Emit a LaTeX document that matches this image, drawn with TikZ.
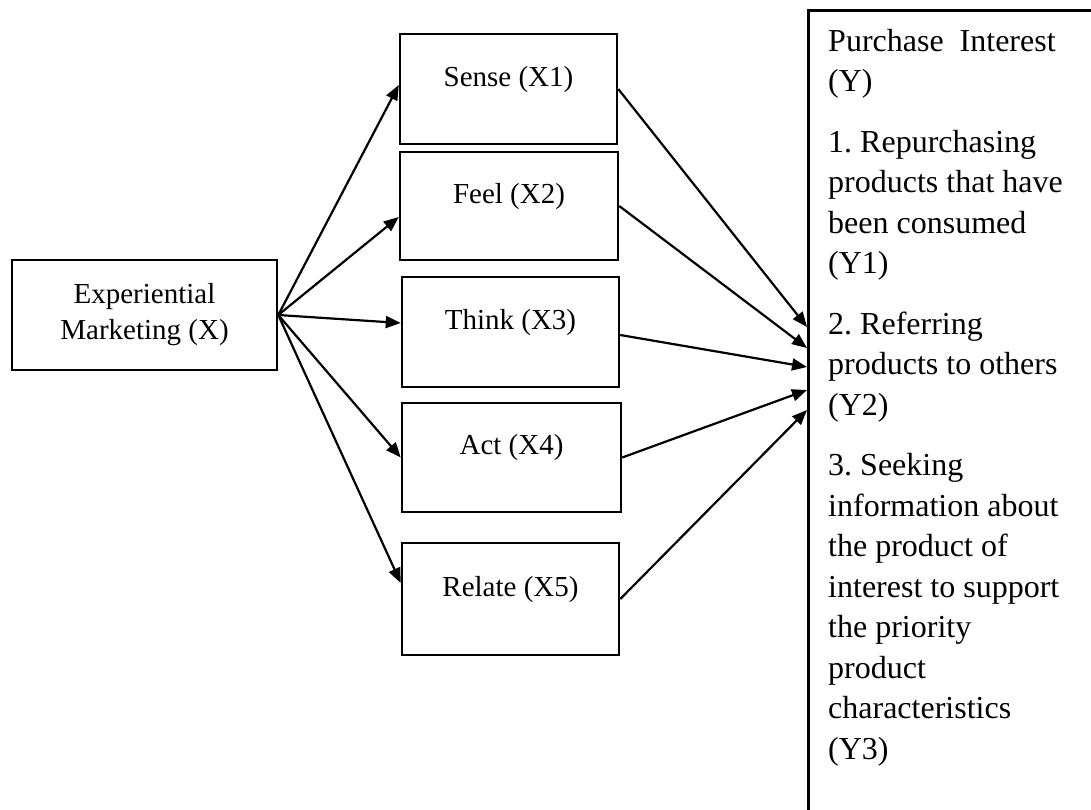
\documentclass[tikz,border=0pt]{standalone}
\usepackage{fontspec}
\setmainfont{Liberation Serif}
\usetikzlibrary{arrows.meta}
\begin{document}
\begin{tikzpicture}[x=1pt,y=-1pt,
  box/.style={draw, line width=2.5pt, minimum width=217pt, minimum height=110pt, inner sep=0pt,
    font=\fontsize{29}{36}\selectfont, text height=20pt, text depth=26pt},
  bigbox/.style={draw, line width=2.5pt, inner sep=0pt},
  ytext/.style={inner sep=0pt, align=left, font=\fontsize{32}{40.5}\selectfont},
  conn/.style={line width=2.2pt, -{Triangle[length=15pt,width=12pt]}}]
\useasboundingbox (0,0) rectangle (1091,809);
\fill[white] (0,0) rectangle (1091,809);
% left box
\node[draw, line width=2.5pt, minimum width=265pt, minimum height=110pt, inner sep=0pt,
  align=center, font=\fontsize{29}{36}\selectfont] (X) at (144.5,315) {Experiential\\Marketing (X)};
% middle boxes
\node[box] (S1) at (508.5,89) {Sense (X1)};
\node[box, minimum width=218pt, minimum height=108pt] (S2) at (509,206) {Feel (X2)};
\node[box] (S3) at (510.5,332) {Think (X3)};
\node[box, minimum width=219pt, minimum height=109pt] (S4) at (511.5,457.5) {Act (X4)};
\node[box, minimum height=112pt] (S5) at (510.5,599) {Relate (X5)};
% right box
\node[bigbox, anchor=north west, minimum width=340pt, minimum height=860pt] (Y) at (807,9) {};
\node[ytext, anchor=north west] (Yt) at (828,29) {Purchase\ \ Interest\\(Y)\\[20pt]1.\ Repurchasing\\products that have\\been consumed\\(Y1)\\[20pt]2.\ Referring\\products to others\\(Y2)\\[20pt]3.\ Seeking\\information about\\the product of\\interest to support\\the priority\\product\\characteristics\\(Y3)};
% target points on the right box
\coordinate (t1) at (807,327);
\coordinate (t2) at (807,348);
\coordinate (t3) at (807,367);
\coordinate (t4) at (807,390);
\coordinate (t5) at (807,410);
% arrows from X
\draw[conn] (X.east) -- ([yshift=4pt]S1.west);
\draw[conn] (X.east) -- ([yshift=-11pt]S2.west);
\draw[conn] (X.east) -- ([yshift=9pt]S3.west);
\draw[conn] (X.east) -- (S4.west);
\draw[conn] (X.east) -- ([yshift=16pt]S5.west);
% arrows to Y
\draw[conn] (S1.east) -- (t1);
\draw[conn] (S2.east) -- (t2);
\draw[conn] ([yshift=-3pt]S3.east) -- (t3);
\draw[conn] (S4.east) -- (t4);
\draw[conn] (S5.east) -- (t5);
\end{tikzpicture}
\end{document}
